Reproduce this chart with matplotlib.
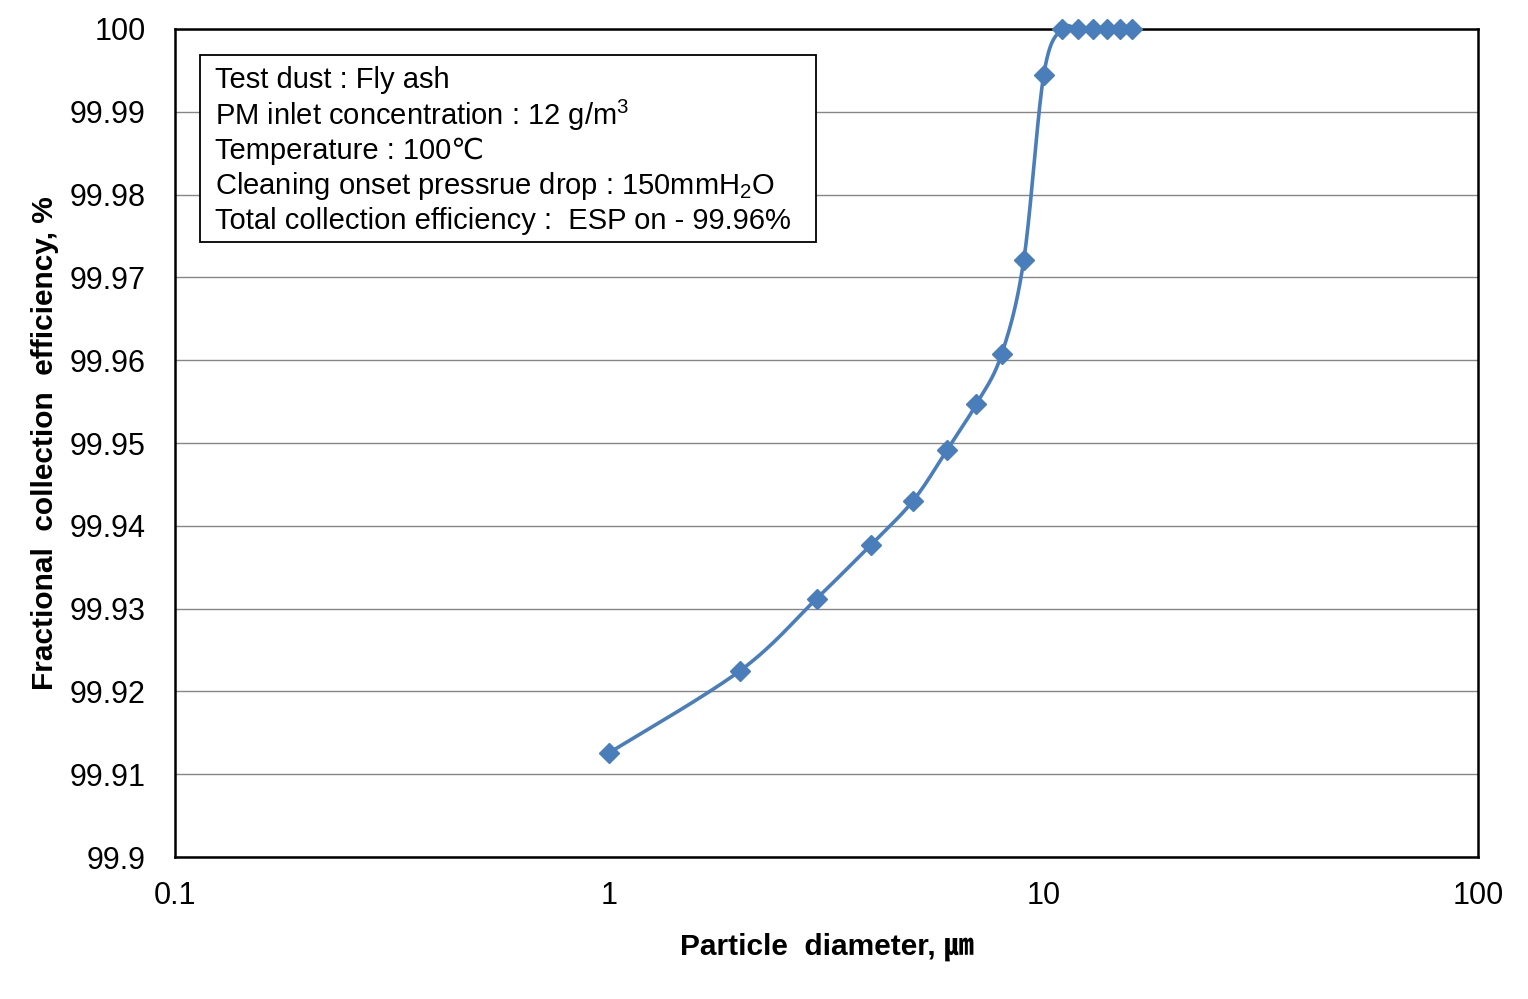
import numpy as np
import matplotlib
matplotlib.use('Agg')
import matplotlib.pyplot as plt
from matplotlib.patches import Rectangle

plt.rcParams['font.family'] = ['Liberation Sans', 'DejaVu Sans', 'Noto Sans CJK KR']
plt.rcParams['mathtext.fontset'] = 'custom'
plt.rcParams['mathtext.rm'] = 'Liberation Sans'
plt.rcParams['mathtext.it'] = 'Liberation Sans'

# data
diameter = [1, 2, 3, 4, 5, 6, 7, 8, 9, 10, 11, 12, 13, 14, 15, 16]
efficiency = [99.9126, 99.9225, 99.9312, 99.9377, 99.9430, 99.9492, 99.9547,
              99.9607, 99.9721, 99.9944, 100, 100, 100, 100, 100, 100]
yticks = [99.9, 99.91, 99.92, 99.93, 99.94, 99.95, 99.96, 99.97, 99.98, 99.99, 100]
ytick_labels = ['99.9', '99.91', '99.92', '99.93', '99.94', '99.95', '99.96',
                '99.97', '99.98', '99.99', '100']
xticks = [0.1, 1, 10, 100]
xtick_labels = ['0.1', '1', '10', '100']
info_lines = ['Test dust : Fly ash',
              'PM inlet concentration : 12 g/m$^3$',
              'Temperature : 100\u2103',
              'Cleaning onset pressrue drop : 150mmH$_2$O',
              'Total collection efficiency :  ESP on - 99.96%']

color = '#4a7ebb'


def smooth(x, y, n=30):
    # Excel-style smoothed line (Catmull-Rom Bezier) in log-x space
    lx = np.log10(np.asarray(x, float))
    yy = np.asarray(y, float)
    px = np.concatenate([[lx[0]], lx, [lx[-1]]])
    py = np.concatenate([[yy[0]], yy, [yy[-1]]])
    outx, outy = [], []
    t = np.linspace(0, 1, n)
    for i in range(1, len(px) - 2):
        p0 = np.array([px[i], py[i]])
        p3 = np.array([px[i + 1], py[i + 1]])
        c1 = p0 + (np.array([px[i + 1], py[i + 1]]) - np.array([px[i - 1], py[i - 1]])) / 6
        c2 = p3 - (np.array([px[i + 2], py[i + 2]]) - np.array([px[i], py[i]])) / 6
        b = ((1 - t) ** 3)[:, None] * p0 + (3 * (1 - t) ** 2 * t)[:, None] * c1 \
            + (3 * (1 - t) * t ** 2)[:, None] * c2 + (t ** 3)[:, None] * p3
        outx.extend(b[:, 0])
        outy.extend(b[:, 1])
    return 10 ** np.array(outx), np.array(outy)


fig = plt.figure(figsize=(15.28, 9.99), dpi=100)
ax = fig.add_axes([0.1145, 0.1421, 0.8528, 0.8289])

sx, sy = smooth(diameter, efficiency)
ax.plot(sx, sy, color=color, lw=2.6, zorder=3, clip_on=False)
ax.plot(diameter, efficiency, ls='none', marker='D', ms=10.5, color=color,
        zorder=4, clip_on=False)

ax.set_xscale('log')
ax.set_xlim(0.1, 100)
ax.set_ylim(99.9, 100)
ax.set_xticks(xticks)
ax.set_xticklabels(xtick_labels)
ax.set_yticks(yticks)
ax.set_yticklabels(ytick_labels)
ax.minorticks_off()
ax.tick_params(length=0, labelsize=22)
ax.tick_params(axis='y', pad=21)
ax.tick_params(axis='x', pad=17)
ax.grid(axis='y', color='#868686', lw=1)
ax.set_axisbelow(True)
for s in ax.spines.values():
    s.set_linewidth(1.8)

ax.set_xlabel('Particle  diameter, \u339b', fontsize=21.5, fontweight='bold',
              labelpad=16)
ax.set_ylabel('Fractional  collection  efficiency, %', fontsize=21.5,
              fontweight='bold', labelpad=8)

ax.add_patch(Rectangle((0.0192, 0.7428), 0.4728, 0.2258, transform=ax.transAxes,
                       facecolor='white', edgecolor='black', lw=1.3, zorder=5))
for i, line in enumerate(info_lines):
    ax.text(0.0307, (857 - 80.5 - 35.1 * i) / 828, line, transform=ax.transAxes,
            fontsize=21, va='center', ha='left', zorder=6)

fig.savefig('out.png', dpi=100)
